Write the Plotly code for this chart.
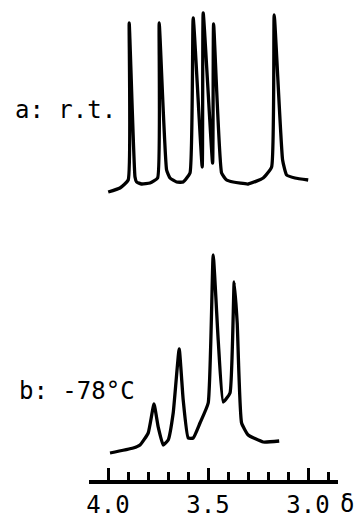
import plotly.graph_objects as go

# Spectrum a (room temperature): chemical shift (ppm) and intensity (arb. units)
delta_a = [3.999, 3.94, 3.899, 3.894, 3.865, 3.857, 3.832, 3.79, 3.752, 3.744,
           3.707, 3.69, 3.657, 3.624, 3.59, 3.574, 3.529, 3.524, 3.477, 3.472,
           3.432, 3.407, 3.374, 3.299, 3.224, 3.182, 3.169, 3.127, 3.107, 3.065, 2.999]
int_a = [0, 4, 12, 169, 15, 10, 8, 9, 14, 169,
         22, 14, 10, 10, 19, 174, 25, 179, 29, 168,
         19, 12, 10, 8, 14, 25, 177, 32, 17, 14, 12]

# Spectrum b (-78 °C)
delta_b = [3.990, 3.874, 3.84, 3.799, 3.77, 3.749, 3.724, 3.699, 3.674, 3.644,
           3.624, 3.599, 3.574, 3.54, 3.499, 3.474, 3.449, 3.424, 3.39, 3.369,
           3.354, 3.332, 3.299, 3.224, 3.144]
int_b = [0, 5, 8, 20, 49, 26, 8, 13, 40, 104,
         53, 15, 15, 30, 50, 198, 113, 51, 60, 171,
         130, 30, 18, 11, 12]

tick_vals = [4.0, 3.5, 3.0]
tick_text = ["4.0", "3.5", "3.0"]
label_a = "a: r.t."
label_b = "b: -78°C"
axis_symbol = "δ"

FONT = "DejaVu Sans Mono"

fig = go.Figure()
fig.add_trace(go.Scatter(x=delta_a, y=int_a, xaxis="x", yaxis="y2", mode="lines",
                         line=dict(color="black", width=3.3, shape="spline", smoothing=0.4),
                         showlegend=False, hoverinfo="skip"))
fig.add_trace(go.Scatter(x=delta_b, y=int_b, xaxis="x", yaxis="y", mode="lines",
                         line=dict(color="black", width=3.3, shape="spline", smoothing=0.4),
                         showlegend=False, hoverinfo="skip"))

fig.update_layout(
    width=356, height=514,
    margin=dict(l=89, r=18, t=0, b=34, autoexpand=False),
    paper_bgcolor="white", plot_bgcolor="white",
    xaxis=dict(range=[4.095, 2.85], showgrid=False, zeroline=False, automargin=False,
               showline=True, linecolor="black", linewidth=4,
               ticks="inside", ticklen=12, tickwidth=3, tickcolor="black",
               tickvals=tick_vals, ticktext=tick_text,
               tickfont=dict(family=FONT, size=24, color="black"),
               minor=dict(ticks="inside", ticklen=8, tickwidth=3, tickcolor="black",
                          dtick=0.1, tick0=4.0, showgrid=False),
               anchor="y"),
    yaxis=dict(domain=[0, 0.5], range=[-27, 213], visible=False),
    yaxis2=dict(domain=[0.5, 1], range=[-48, 192], visible=False, anchor="x"),
    annotations=[
        dict(text=label_a, xref="paper", yref="y2", x=-0.305, y=82,
             xanchor="left", yanchor="middle", showarrow=False,
             font=dict(family=FONT, size=24, color="black")),
        dict(text=label_b, xref="paper", yref="y", x=-0.29, y=62,
             xanchor="left", yanchor="middle", showarrow=False,
             font=dict(family=FONT, size=24, color="black")),
        dict(text=axis_symbol, xref="paper", yref="paper", x=1.0, y=-0.05,
             xanchor="left", yanchor="middle", showarrow=False,
             font=dict(family=FONT, size=24, color="black")),
    ],
)

fig.write_html("out.html",
               config={"displayModeBar": False, "staticPlot": True},
               post_script="document.body.style.margin='0';document.body.style.overflow='hidden';")
